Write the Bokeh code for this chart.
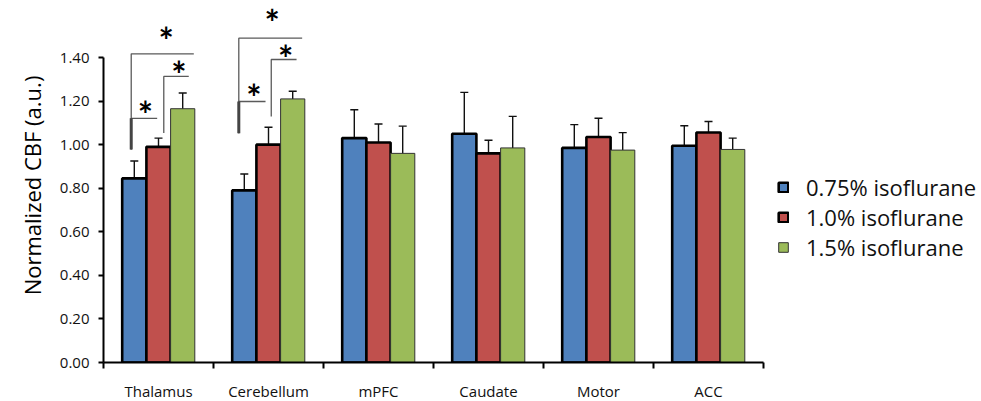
from bokeh.plotting import figure
from bokeh.models import (ColumnDataSource, FixedTicker, NumeralTickFormatter, Whisker,
                          Legend, LegendItem, Range1d)
from bokeh.core.properties import value
from bokeh.embed import file_html
from bokeh.resources import INLINE

categories = ["Thalamus", "Cerebellum", "mPFC", "Caudate", "Motor", "ACC"]
series_names = ["0.75% isoflurane", "1.0% isoflurane", "1.5% isoflurane"]
means_075 = [0.845, 0.790, 1.030, 1.050, 0.985, 0.995]
err_075 = [0.080, 0.075, 0.130, 0.190, 0.107, 0.092]
means_100 = [0.990, 1.000, 1.010, 0.960, 1.035, 1.056]
err_100 = [0.040, 0.080, 0.085, 0.060, 0.086, 0.050]
means_150 = [1.165, 1.210, 0.960, 0.985, 0.975, 0.978]
err_150 = [0.072, 0.035, 0.125, 0.145, 0.080, 0.052]
y_ticks = [0.0, 0.2, 0.4, 0.6, 0.8, 1.0, 1.2, 1.4]

# significance brackets (data coords): left x, bottom y, top y, right x
sig_xl = [0.252, 0.252, 0.548, 1.230, 1.230, 1.525]
sig_yb = [0.978, 0.978, 1.054, 1.052, 1.052, 1.129]
sig_yt = [1.417, 1.121, 1.313, 1.489, 1.198, 1.391]
sig_xr = [0.821, 0.488, 0.775, 1.806, 1.473, 1.755]
# thick stems
stem_x = [0.252, 1.230]
stem_y0 = [0.978, 1.052]
stem_y1 = [1.121, 1.198]
# significance stars
star_x = [0.570, 0.382, 0.685, 1.534, 1.367, 1.655]
star_y = [1.511, 1.172, 1.356, 1.593, 1.252, 1.432]

colors = ["#4F81BD", "#C0504D", "#9BBB59"]
line_colors = ["black", "black", "#333333"]
line_widths = [2.6, 2.6, 1.0]
offsets = [-0.22, 0.0, 0.22]
bar_w = 0.22
FONT = "Open Sans"

p = figure(frame_width=660, frame_height=354, output_backend="svg", toolbar_location=None,
           x_range=Range1d(0, 6), y_range=Range1d(0, 1.625),
           min_border_left=103, min_border_right=0, min_border_top=8, min_border_bottom=31)
p.outline_line_color = None
p.xgrid.visible = False
p.ygrid.visible = False

centers = [i + 0.5 for i in range(len(categories))]
items = []
for k, (m, e) in enumerate([(means_075, err_075), (means_100, err_100), (means_150, err_150)]):
    xs = [c + offsets[k] for c in centers]
    src = ColumnDataSource(dict(x=xs, top=m, lo=[a - b for a, b in zip(m, e)],
                                hi=[a + b for a, b in zip(m, e)]))
    r = p.vbar(x="x", top="top", width=bar_w, source=src, fill_color=colors[k],
               line_color=line_colors[k], line_width=line_widths[k])
    w = Whisker(base="x", lower="lo", upper="hi", source=src, line_color="#111111", line_width=1.4)
    w.upper_head.size = 8
    w.lower_head.size = 8
    w.upper_head.line_width = 1.4
    w.lower_head.line_width = 1.4
    w.upper_head.line_color = "#111111"
    w.lower_head.line_color = "#111111"
    p.add_layout(w)
    items.append(LegendItem(label=series_names[k], renderers=[r]))

# brackets
p.multi_line(xs=[[a, a, b] for a, b in zip(sig_xl, sig_xr)],
             ys=[[c, d, d] for c, d in zip(sig_yb, sig_yt)],
             line_color="#5a5a5a", line_width=1.3)
p.segment(x0=stem_x, y0=stem_y0, x1=stem_x, y1=stem_y1, line_color="#444444", line_width=3)
p.text(x=star_x, y=star_y, text=["*"] * len(star_x), text_align="center",
       text_baseline="middle", y_offset=7, text_font=value("Lato"), text_font_size="36px",
       text_font_style="bold", text_color="black")

# axes
p.yaxis.ticker = FixedTicker(ticks=y_ticks)
p.yaxis.formatter = NumeralTickFormatter(format="0.00")
p.yaxis.bounds = (0, 1.4)
p.yaxis.axis_label = "Normalized CBF (a.u.)"
p.yaxis.axis_label_text_font = FONT
p.yaxis.axis_label_text_font_size = "22px"
p.yaxis.axis_label_text_font_style = "normal"
p.yaxis.axis_label_text_color = "black"
p.yaxis.axis_label_standoff = 10
p.yaxis.major_label_text_font = FONT
p.yaxis.major_label_text_font_size = "15px"
p.yaxis.major_label_text_color = "#111111"
p.yaxis.major_label_standoff = 9
p.yaxis.major_tick_out = 5
p.yaxis.major_tick_in = 0
p.yaxis.minor_tick_out = 0
p.yaxis.minor_tick_in = 0
p.yaxis.axis_line_width = 2
p.yaxis.major_tick_line_width = 2

p.xaxis.ticker = FixedTicker(ticks=centers, minor_ticks=list(range(7)))
p.xaxis.major_label_overrides = {c: n for c, n in zip(centers, categories)}
p.xaxis.major_label_text_font = FONT
p.xaxis.major_label_text_font_size = "15px"
p.xaxis.major_label_text_color = "#111111"
p.xaxis.major_tick_out = 0
p.xaxis.major_tick_in = 0
p.xaxis.minor_tick_out = 6
p.xaxis.minor_tick_in = 0
p.xaxis.minor_tick_line_width = 2
p.xaxis.axis_line_width = 2
p.xaxis.major_label_standoff = 12

legend = Legend(items=items, location=(14, 100))
legend.label_text_font = FONT
legend.label_text_font_size = "22px"
legend.label_text_color = "#111111"
legend.glyph_width = 12
legend.glyph_height = 12
legend.label_standoff = 17
legend.spacing = 0
legend.padding = 0
legend.margin = 0
legend.border_line_color = None
legend.background_fill_alpha = 0
p.add_layout(legend, "right")

open("out.html", "w").write(file_html(p, INLINE))
